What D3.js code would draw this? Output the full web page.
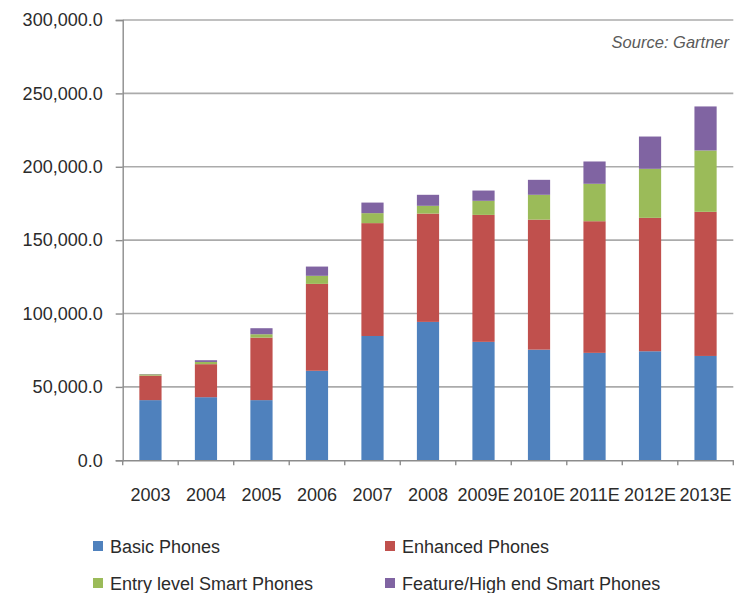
<!DOCTYPE html>
<html lang="en">
<head>
  <meta charset="UTF-8">
  <title>Mobile Phone Sales by Type</title>
  <script src="https://d3js.org/d3.v7.min.js"></script>
  <style>
    body {
      margin: 0;
      background: #fff;
      font-family: 'Liberation Sans', Arial, sans-serif;
    }
    svg text { fill: #2b2b2b; }
    .legend text { font-size: 18px; }
  </style>
</head>
<body>
  <svg id="chart" width="740" height="593"></svg>

  <script>
    const years = ["2003", "2004", "2005", "2006", "2007", "2008", "2009E", "2010E", "2011E", "2012E", "2013E"];
    const seriesNames = ["Basic Phones", "Enhanced Phones", "Entry level Smart Phones", "Feature/High end Smart Phones"];
    const basic    = [41000, 43000, 41000, 61000, 84700, 94300, 80700, 75400, 73200, 74300, 71100];
    const enhanced = [16700, 22500, 42600, 59200, 76900, 73800, 86500, 88600, 89700, 90900, 98200];
    const entry    = [900, 1500, 2300, 5500, 6800, 5300, 9600, 16900, 25500, 33400, 41800];
    const feature  = [200, 1200, 4100, 6300, 7200, 7500, 7000, 10200, 15200, 22000, 30000];
    const yTicks = [0, 50000, 100000, 150000, 200000, 250000, 300000];
    const colors = ["#4f81bd", "#c0504d", "#9bbb59", "#8064a2"];

    const rows = years.map((yr, i) => ({
      year: yr,
      "Basic Phones": basic[i],
      "Enhanced Phones": enhanced[i],
      "Entry level Smart Phones": entry[i],
      "Feature/High end Smart Phones": feature[i]
    }));

    const svg = d3.select("#chart");
    const plotLeft = 122.7, plotRight = 733.3, plotTop = 20, plotBottom = 460.3;

    const x = d3.scaleBand().domain(years).range([plotLeft, plotRight]).paddingInner(0.6).paddingOuter(0.3);
    const y = d3.scaleLinear().domain([0, 300000]).range([plotBottom, plotTop]);
    const color = d3.scaleOrdinal().domain(seriesNames).range(colors);

    // gridlines
    svg.append("g")
      .selectAll("line")
      .data(yTicks.filter(d => d > 0))
      .join("line")
      .attr("x1", plotLeft).attr("x2", plotRight)
      .attr("y1", d => y(d)).attr("y2", d => y(d))
      .attr("stroke", "#ababab")
      .attr("stroke-width", 1.6);

    // stacked bars
    const stacked = d3.stack().keys(seriesNames)(rows);
    svg.append("g")
      .selectAll("g")
      .data(stacked)
      .join("g")
      .attr("fill", d => color(d.key))
      .selectAll("rect")
      .data(d => d)
      .join("rect")
      .attr("x", d => x(d.data.year))
      .attr("width", x.bandwidth())
      .attr("y", d => y(d[1]))
      .attr("height", d => y(d[0]) - y(d[1]));

    // y axis
    const yAxis = svg.append("g")
      .attr("transform", `translate(${plotLeft},0)`)
      .call(d3.axisLeft(y).tickValues(yTicks).tickFormat(d3.format(",.1f")).tickSize(7).tickPadding(13));
    yAxis.select(".domain").attr("stroke", "#8c8c8c").attr("stroke-width", 1.4);
    yAxis.selectAll(".tick line").attr("stroke", "#8c8c8c").attr("stroke-width", 1.4);
    yAxis.selectAll("text").attr("font-size", 18).attr("font-family", "'Liberation Sans', Arial, sans-serif").attr("fill", "#2b2b2b");

    // x axis
    const xAxis = svg.append("g")
      .attr("transform", `translate(0,${plotBottom})`)
      .call(d3.axisBottom(x).tickSize(0).tickPadding(28));
    xAxis.select(".domain").attr("stroke", "#8c8c8c").attr("stroke-width", 1.4);
    xAxis.selectAll("text").attr("font-size", 18).attr("font-family", "'Liberation Sans', Arial, sans-serif").attr("fill", "#2b2b2b");

    // x tick marks between categories
    const step = x.step();
    svg.append("g")
      .selectAll("line")
      .data(d3.range(years.length + 1))
      .join("line")
      .attr("x1", i => plotLeft + i * step).attr("x2", i => plotLeft + i * step)
      .attr("y1", plotBottom).attr("y2", plotBottom + 5)
      .attr("stroke", "#8c8c8c")
      .attr("stroke-width", 1.4);

    // source note
    svg.append("text")
      .attr("x", 729).attr("y", 48)
      .attr("text-anchor", "end")
      .attr("font-size", 16.5)
      .attr("font-style", "italic")
      .style("fill", "#5a5a5a")
      .text("Source: Gartner");

    // legend
    const legend = svg.append("g").attr("class", "legend")
      .selectAll("g")
      .data(seriesNames)
      .join("g")
      .attr("transform", (d, i) => `translate(${i % 2 === 0 ? 93 : 385},${i < 2 ? 541 : 578})`);
    legend.append("rect")
      .attr("width", 10).attr("height", 10)
      .attr("fill", d => color(d));
    legend.append("text")
      .attr("x", 17).attr("y", 11.5)
      .text(d => d);
  </script>
</body>
</html>
